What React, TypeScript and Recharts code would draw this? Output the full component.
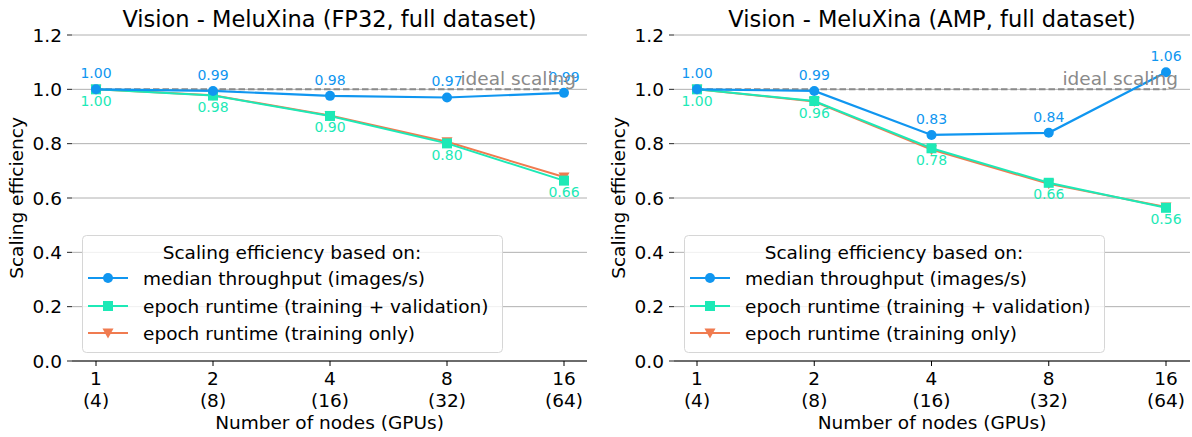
import React from "react";
import { CartesianGrid, LabelList, Line, LineChart, XAxis, YAxis } from "recharts";

const nodes = ["1", "2", "4", "8", "16"];
const gpus = ["(4)", "(8)", "(16)", "(32)", "(64)"];
const ideal = [1, 1, 1, 1, 1];

const fp32Throughput = [1.0, 0.994, 0.976, 0.97, 0.987];
const fp32EpochTrainVal = [1.0, 0.977, 0.902, 0.801, 0.664];
const fp32EpochTrain = [1.0, 0.978, 0.904, 0.807, 0.677];

const ampThroughput = [1.0, 0.994, 0.832, 0.84, 1.063];
const ampEpochTrainVal = [1.0, 0.957, 0.783, 0.656, 0.564];
const ampEpochTrain = [1.0, 0.955, 0.778, 0.652, 0.567];

const yTicks = [0, 0.2, 0.4, 0.6, 0.8, 1.0, 1.2];

const legendTitle = "Scaling efficiency based on:";
const legendLabels = [
  "median throughput (images/s)",
  "epoch runtime (training + validation)",
  "epoch runtime (training only)",
];

const BLUE = "#1096f0";
const TEAL = "#1de9b6";
const ORANGE = "#f07b50";
const GRAY = "#8a8a8a";
const FONT = "'DejaVu Sans', sans-serif";
const FS = 18.5;

function SquareDot(props: any) {
  const { cx, cy, index } = props;
  if (cx == null || cy == null) return <g key={index} />;
  return <rect key={index} x={cx - 5} y={cy - 5} width={10} height={10} fill={TEAL} />;
}

function TriangleDot(props: any) {
  const { cx, cy, index } = props;
  if (cx == null || cy == null) return <g key={index} />;
  return (
    <polygon
      key={index}
      points={`${cx - 5.5},${cy - 4.5} ${cx + 5.5},${cy - 4.5} ${cx},${cy + 5.5}`}
      fill={ORANGE}
    />
  );
}

function NodeTick(props: any) {
  const { x, y, payload } = props;
  const i = nodes.indexOf(String(payload.value));
  return (
    <g>
      <text x={x} y={y + 16.5} textAnchor="middle" fill="#000" fontSize={FS} fontFamily={FONT}>
        {payload.value}
      </text>
      <text x={x} y={y + 38.5} textAnchor="middle" fill="#000" fontSize={FS} fontFamily={FONT}>
        {gpus[i]}
      </text>
    </g>
  );
}

function Panel(props: {
  title: string;
  throughput: number[];
  trainVal: number[];
  train: number[];
  yAxisWidth: number;
  marginRight: number;
  padLeft: number;
  padRight: number;
  legendLeft: number;
}) {
  const data = nodes.map((node, i) => ({
    node,
    ideal: ideal[i],
    throughput: props.throughput[i],
    trainVal: props.trainVal[i],
    train: props.train[i],
  }));
  const plotLeft = props.yAxisWidth;
  const plotRight = 596 - props.marginRight;
  const rowY = [43, 71, 98];

  return (
    <div style={{ position: "relative", width: 596, height: 437 }}>
      <LineChart
        width={596}
        height={437}
        data={data}
        margin={{ top: 35, right: props.marginRight, left: 0, bottom: 0 }}
      >
        <CartesianGrid vertical={false} stroke="#b0b0b0" strokeWidth={1} />
        <XAxis
          dataKey="node"
          height={76}
          padding={{ left: props.padLeft, right: props.padRight }}
          axisLine={{ stroke: "#000", strokeWidth: 1.2 }}
          tickLine={{ stroke: "#000" }}
          tickSize={5}
          tickMargin={2}
          tick={<NodeTick />}
          interval={0}
          label={{
            content: (p: any) => {
              const vb = p.viewBox;
              return (
                <text
                  x={vb.x + vb.width / 2}
                  y={428.5}
                  textAnchor="middle"
                  fill="#000"
                  fontSize={FS}
                  fontFamily={FONT}
                >
                  Number of nodes (GPUs)
                </text>
              );
            },
          }}
        />
        <YAxis
          type="number"
          domain={[0, 1.2]}
          ticks={yTicks}
          width={props.yAxisWidth}
          axisLine={false}
          tickLine={{ stroke: "#222" }}
          tickSize={5}
          tickMargin={5}
          tickFormatter={(v: number) => v.toFixed(1)}
          tick={{ fill: "#000", fontSize: FS, fontFamily: FONT }}
          label={{
            content: (p: any) => {
              const vb = p.viewBox;
              const x = vb.x + props.yAxisWidth - 49;
              const y = vb.y + vb.height / 2;
              return (
                <text
                  x={x}
                  y={y}
                  transform={`rotate(-90 ${x} ${y})`}
                  textAnchor="middle"
                  fill="#000"
                  fontSize={FS}
                  fontFamily={FONT}
                >
                  Scaling efficiency
                </text>
              );
            },
          }}
        />
        <Line
          dataKey="ideal"
          stroke={GRAY}
          strokeWidth={2}
          strokeDasharray="6.5 3"
          dot={false}
          isAnimationActive={false}
        />
        <Line
          dataKey="train"
          stroke={ORANGE}
          strokeWidth={2}
          dot={(p: any) => <TriangleDot key={p.index} {...p} />}
          isAnimationActive={false}
        />
        <Line
          dataKey="trainVal"
          stroke={TEAL}
          strokeWidth={2}
          dot={(p: any) => <SquareDot key={p.index} {...p} />}
          isAnimationActive={false}
        >
          <LabelList
            dataKey="trainVal"
            content={(p: any) => (
              <text
                x={p.x}
                y={p.y + 11.5}
                textAnchor="middle"
                dominantBaseline="central"
                fill={TEAL}
                fontSize={14}
                fontFamily={FONT}
              >
                {Number(p.value).toFixed(2)}
              </text>
            )}
          />
        </Line>
        <Line
          dataKey="throughput"
          stroke={BLUE}
          strokeWidth={2.2}
          dot={{ r: 5, fill: BLUE, stroke: "none" }}
          isAnimationActive={false}
        >
          <LabelList
            dataKey="throughput"
            content={(p: any) => (
              <text
                x={p.x}
                y={p.y - 16}
                textAnchor="middle"
                dominantBaseline="central"
                fill={BLUE}
                fontSize={14}
                fontFamily={FONT}
              >
                {Number(p.value).toFixed(2)}
              </text>
            )}
          />
        </Line>
        {/* invisible copy of the ideal series, only to draw its text on top */}
        <Line
          dataKey="ideal"
          stroke="none"
          dot={false}
          legendType="none"
          isAnimationActive={false}
        >
          <LabelList
            dataKey="ideal"
            content={(p: any) =>
              p.index === nodes.length - 1 ? (
                <text
                  x={p.x + 12}
                  y={p.y - 4}
                  textAnchor="end"
                  fill={GRAY}
                  fontSize={FS}
                  fontFamily={FONT}
                >
                  ideal scaling
                </text>
              ) : null
            }
          />
        </Line>
      </LineChart>

      <svg
        width={596}
        height={437}
        style={{ position: "absolute", left: 0, top: 0, pointerEvents: "none" }}
      >
        <text
          x={(plotLeft + plotRight) / 2}
          y={27}
          textAnchor="middle"
          fill="#000"
          fontSize={22.5}
          fontFamily={FONT}
        >
          {props.title}
        </text>
        <g transform={`translate(${props.legendLeft}, 235)`}>
          <rect
            x={0.5}
            y={0.5}
            width={420}
            height={117}
            rx={4}
            fill="rgba(255,255,255,0.8)"
            stroke="#d6d6d6"
          />
          <text x={210} y={23.5} textAnchor="middle" fill="#000" fontSize={FS} fontFamily={FONT}>
            {legendTitle}
          </text>
          {legendLabels.map((label, i) => {
            const cy = rowY[i];
            const color = [BLUE, TEAL, ORANGE][i];
            return (
              <g key={label}>
                <line x1={6} x2={46} y1={cy} y2={cy} stroke={color} strokeWidth={2} />
                {i === 0 ? <circle cx={26} cy={cy} r={5} fill={color} /> : null}
                {i === 1 ? <rect x={21} y={cy - 5} width={10} height={10} fill={color} /> : null}
                {i === 2 ? (
                  <polygon
                    points={`${20.5},${cy - 4.5} ${31.5},${cy - 4.5} ${26},${cy + 5.5}`}
                    fill={color}
                  />
                ) : null}
                <text x={61} y={cy + 6.5} fill="#000" fontSize={FS} fontFamily={FONT}>
                  {label}
                </text>
              </g>
            );
          })}
        </g>
      </svg>
    </div>
  );
}

export default function App() {
  return (
    <div
      style={{
        position: "absolute",
        left: 0,
        top: 0,
        width: 1192,
        height: 437,
        display: "flex",
        background: "#fff",
        fontFamily: FONT,
      }}
    >
      <Panel
        title="Vision - MeluXina (FP32, full dataset)"
        throughput={fp32Throughput}
        trainVal={fp32EpochTrainVal}
        train={fp32EpochTrain}
        yAxisWidth={72}
        marginRight={9}
        padLeft={24}
        padRight={23}
        legendLeft={82}
      />
      <Panel
        title="Vision - MeluXina (AMP, full dataset)"
        throughput={ampThroughput}
        trainVal={ampEpochTrainVal}
        train={ampEpochTrain}
        yAxisWidth={78}
        marginRight={2}
        padLeft={23}
        padRight={24}
        legendLeft={88}
      />
    </div>
  );
}
